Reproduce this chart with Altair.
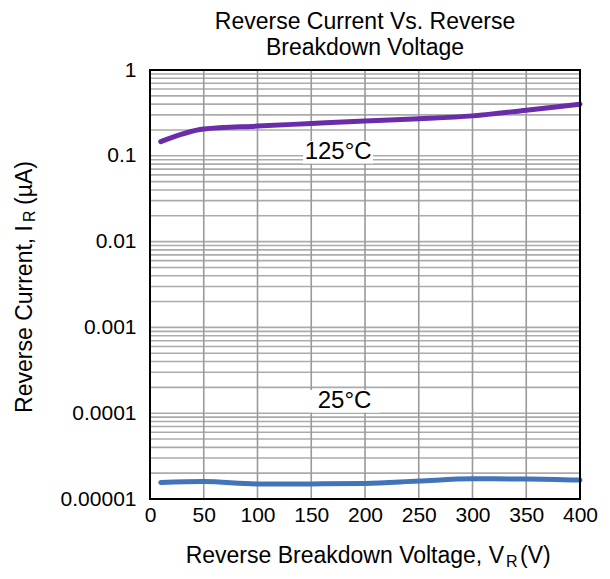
import json
import altair as alt
import pandas as pd

# ---- data ----
volts = [10, 50, 100, 150, 200, 250, 300, 350, 400]
ir_125c = [0.146, 0.205, 0.222, 0.238, 0.255, 0.27, 0.292, 0.34, 0.40]
ir_25c = [1.56e-5, 1.60e-5, 1.50e-5, 1.50e-5, 1.52e-5, 1.62e-5, 1.72e-5, 1.71e-5, 1.66e-5]

x_ticks = [0, 50, 100, 150, 200, 250, 300, 350, 400]
x_grid = [50, 100, 150, 200, 250, 300, 350]
y_ticks = [1e-5, 1e-4, 1e-3, 1e-2, 1e-1, 1]
y_tick_labels = ["0.00001", "0.0001", "0.001", "0.01", "0.1", "1"]
decades = [1e-5, 1e-4, 1e-3, 1e-2, 1e-1]
minor_mults = [1, 2, 3, 4, 5, 6, 7, 8, 9]

label_text = ["125°C", "25°C"]
label_x = [175, 181]
label_y = [0.11, 1.38e-4]

FONT = "Liberation Sans"
W, H = 430, 429

curves = pd.DataFrame({
    "v": volts * 2,
    "i": ir_125c + ir_25c,
    "s": ["125°C"] * len(volts) + ["25°C"] * len(volts),
})
hgrid = pd.DataFrame({"i": [m * d for d in decades for m in minor_mults if m * d > 1e-5]})
vgrid = pd.DataFrame({"v": x_grid})
labels = pd.DataFrame({"v": label_x, "i": label_y, "t": label_text})

xs = alt.Scale(domain=[0, 400], nice=False, zero=False)
ys = alt.Scale(type="log", domain=[1e-5, 1], nice=False)

label_expr = json.dumps(y_tick_labels) + "[round(log(datum.value)/LN10)+5]"

x_axis = alt.Axis(values=x_ticks, title=None, grid=False, domain=False, ticks=False,
                  labelFont=FONT, labelFontSize=21, labelColor="black", labelPadding=5,
                  labelFlush=False, labelOverlap=False)
y_axis = alt.Axis(values=y_ticks, title=None, grid=False, domain=False, ticks=False,
                  labelFont=FONT, labelFontSize=21, labelColor="black", labelPadding=14,
                  labelExpr=label_expr, labelFlush=False, labelOverlap=False)

X = alt.X("v:Q", scale=xs, axis=x_axis)
Y = alt.Y("i:Q", scale=ys, axis=y_axis)

h_rules = alt.Chart(hgrid).mark_rule(color="#ababab", strokeWidth=1.6).encode(y=Y)
v_rules = alt.Chart(vgrid).mark_rule(color="#9a9a9a", strokeWidth=1.6).encode(x=X)

lines = alt.Chart(curves).mark_line(strokeWidth=5, interpolate="monotone", strokeCap="round").encode(
    x=X, y=Y,
    color=alt.Color("s:N", scale=alt.Scale(domain=["125°C", "25°C"], range=["#6a2ca8", "#4274ba"]),
                    legend=None),
)

boxes = alt.Chart(labels).mark_point(
    shape="M-1,-0.32L1,-0.32L1,0.32L-1,0.32Z", filled=True, color="white", opacity=1, size=4900
).encode(x=X, y=Y)

texts = alt.Chart(labels).mark_text(font=FONT, fontSize=24, color="black", align="center",
                                    baseline="middle").encode(x=X, y=Y, text="t:N")

one = alt.Data(values=[{}])

border = alt.Chart(one).mark_rect(fill=None, filled=False, stroke="black", strokeWidth=2).encode(
    x=alt.value(0), x2=alt.value(W), y=alt.value(0), y2=alt.value(H))

def txt(s, x, y, size=22, align="center", angle=0):
    kw = dict(text=s, font=FONT, fontSize=size, color="black", align=align, baseline="alphabetic")
    if angle:
        kw["angle"] = angle
    return alt.Chart(one).mark_text(**kw).encode(x=alt.value(x), y=alt.value(y))

title1 = txt("Reverse Current Vs. Reverse", 215, -41, size=23)
title2 = txt("Breakdown Voltage", 215, -15, size=23)

xt_main = txt("Reverse Breakdown Voltage, V", 354, 493, size=23, align="right")
xt_sub = txt("R", 356, 497, size=16, align="left")
xt_end = txt("(V)", 370, 493, size=23, align="left")

yt_main = txt("Reverse Current, I", -118, 155, size=23, align="right", angle=270)
yt_sub = txt("R", -115, 152, size=16, align="left", angle=270)
yt_end = txt("(µA)", -118, 135, size=23, align="left", angle=270)

chart = alt.layer(
    h_rules, v_rules, lines, boxes, texts, border,
    title1, title2, xt_main, xt_sub, xt_end, yt_main, yt_sub, yt_end,
).properties(
    width=W, height=H,
    autosize=alt.AutoSizeParams(type="none"),
    padding={"left": 142, "top": 62, "right": 22, "bottom": 72},
).configure_view(stroke=None).configure(background="white")

chart.save("out.html", embed_options={"renderer": "svg", "actions": False})
